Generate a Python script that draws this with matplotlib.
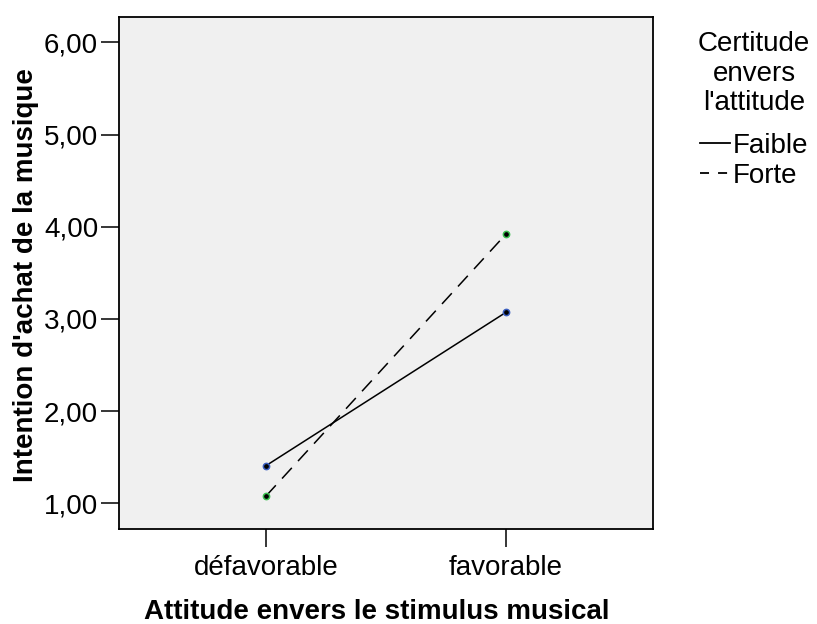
import matplotlib
matplotlib.use("Agg")
import matplotlib.pyplot as plt

categories = ["défavorable", "favorable"]
faible = [1.408, 3.072]
forte = [1.079, 3.921]
series_labels = ["Faible", "Forte"]
yticks = [1, 2, 3, 4, 5, 6]
ytick_labels = ["1,00", "2,00", "3,00", "4,00", "5,00", "6,00"]

plt.rcParams['font.family'] = ['Liberation Sans', 'DejaVu Sans']

fig = plt.figure(figsize=(8.17, 6.24), dpi=100)
ax = fig.add_axes([119/817, 1-529/624, (652.5-119)/817, (529-16.5)/624])
ax.set_facecolor('#f0f0f0')

x = list(range(len(categories)))
ax.plot(x, faible, color='black', lw=1.1, linestyle='-', marker='o', markersize=4.5,
        markerfacecolor='black', markeredgecolor='#3b5fc0', markeredgewidth=1.1,
        label=series_labels[0])
ax.plot(x, forte, color='black', lw=1.1, linestyle=(0, (9.5, 6)), marker='o', markersize=4.5,
        markerfacecolor='black', markeredgecolor='#3cc050', markeredgewidth=1.1,
        label=series_labels[1])

ax.set_xlim(-0.6125, 1.61)
ax.set_ylim(0.721, 6.28)
ax.set_xticks(x)
ax.set_xticklabels(categories, fontsize=20)
ax.set_yticks(yticks)
ax.set_yticklabels(ytick_labels, fontsize=20)
ax.tick_params(axis='both', direction='out', length=13, width=1.1, color='black', pad=2)
ax.tick_params(axis='x', pad=6)
for s in ax.spines.values():
    s.set_linewidth(1.3)
    s.set_color('black')

ax.set_xlabel("Attitude envers le stimulus musical", fontsize=20, fontweight='bold')
ax.xaxis.label.set_va('baseline')
ax.xaxis.set_label_coords((376.5-119)/533.5, (529-619)/512.5)
ax.set_ylabel("Intention d'achat de la musique", fontsize=20, fontweight='bold')
ax.yaxis.label.set_va('center')
ax.yaxis.set_label_coords((26-119)/533.5, 0.4956)

leg = ax.legend(title="Certitude\nenvers\nl'attitude", fontsize=20, title_fontsize=20,
                frameon=False, loc='upper left', bbox_to_anchor=(698/817, 1-31/624),
                bbox_transform=fig.transFigure, borderpad=0, borderaxespad=0,
                handlelength=1.1, handletextpad=0.1, labelspacing=0.15,
                alignment='center')
leg.get_title().set_linespacing(1.18)
leg.get_title().set_multialignment('center')
leg._legend_box.sep = 12
for h in leg.get_lines():
    h.set_marker('')
    h.set_linewidth(1.3)
leg.get_lines()[1].set_linestyle((0, (5, 5)))

fig.savefig("out.png", dpi=100)
